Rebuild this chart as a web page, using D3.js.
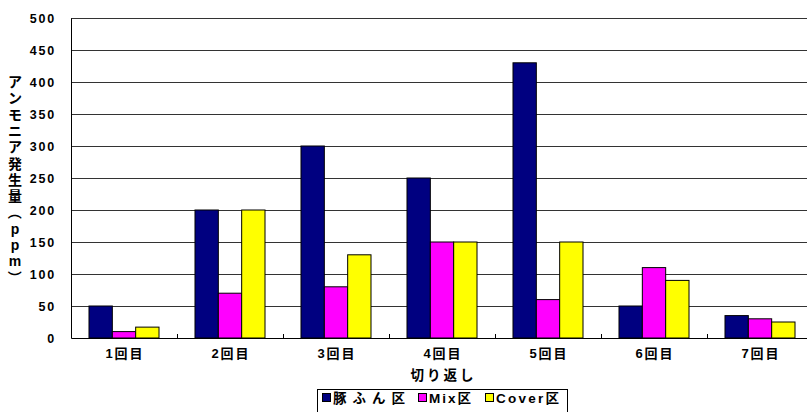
<!DOCTYPE html>
<html>
    <head>
        <meta charset="utf-8">
        <title></title>
        <style>
         body { margin: 0; background: #fff; }
         svg text {
             font-family: "Liberation Sans", Arial, "Noto Sans CJK JP", sans-serif;
             font-weight: bold;
             fill: #000;
         }
         .grid line { stroke: #333; stroke-width: 1px; }
         .bars rect { stroke: #000; stroke-width: 1px; }
        </style>
    </head>
    <body>
        <svg width="807" height="412"></svg>

        <script src="https://cdn.jsdelivr.net/npm/d3@7"></script>
        <script>

         // data
         var categories = ['1回目', '2回目', '3回目', '4回目', '5回目', '6回目', '7回目'];
         var seriesNames = ['豚ふん区', 'Mix区', 'Cover区'];
         var butaFun = [50, 200, 300, 250, 430, 50, 35];
         var mix = [10, 70, 80, 150, 60, 110, 30];
         var cover = [17, 200, 130, 150, 150, 90, 25];
         var yTicks = [0, 50, 100, 150, 200, 250, 300, 350, 400, 450, 500];
         var colors = ['#000080', '#ff00ff', '#ffff00'];
         var yTitle = ['ア', 'ン', 'モ', 'ニ', 'ア', '発', '生', '量', '（', 'p', 'p', 'm', '）'];

         var values = [butaFun, mix, cover];

         var svg = d3.select('svg');
         var plotLeft = 71, plotRight = 813, plotTop = 18, plotBottom = 338;

         var x0 = d3.scaleBand()
                    .domain(categories)
                    .range([plotLeft, plotRight]);

         var x1 = d3.scaleBand()
                    .domain(seriesNames)
                    .range([0, x0.bandwidth()])
                    .paddingOuter(0.771);

         var y = d3.scaleLinear()
                   .domain([0, 500])
                   .range([plotBottom, plotTop]);

         // gridlines
         svg.append('g')
            .attr('class', 'grid')
            .selectAll('line')
            .data(yTicks.slice(1))
            .enter()
            .append('line')
            .attr('x1', plotLeft)
            .attr('x2', plotRight)
            .attr('y1', function(d) { return Math.round(y(d)) + 0.5; })
            .attr('y2', function(d) { return Math.round(y(d)) + 0.5; });

         // bars
         var groups = svg.append('g')
                         .attr('class', 'bars')
                         .selectAll('g')
                         .data(categories)
                         .enter()
                         .append('g')
                         .attr('transform', function(d) { return 'translate(' + x0(d) + ',0)'; });

         groups.selectAll('rect')
               .data(function(d, i) {
                   return seriesNames.map(function(s, j) { return { s: s, v: values[j][i], j: j }; });
               })
               .enter()
               .append('rect')
               .attr('x', function(d) { return x1(d.s); })
               .attr('width', x1.bandwidth())
               .attr('y', function(d) { return y(d.v); })
               .attr('height', function(d) { return y(0) - y(d.v); })
               .attr('fill', function(d) { return colors[d.j]; });

         // y axis
         var yAxis = svg.append('g')
                        .attr('transform', 'translate(' + plotLeft + ',0)')
                        .call(d3.axisLeft(y).tickValues(yTicks).tickSize(0).tickPadding(15));
         yAxis.select('.domain').attr('stroke', '#000');
         yAxis.selectAll('text')
              .attr('font-family', null)
              .attr('font-size', null)
              .style('font-size', '12.5px')
              .style('letter-spacing', '1.8px');

         // x axis
         var xAxis = svg.append('g')
                        .attr('transform', 'translate(0,' + plotBottom + ')')
                        .call(d3.axisBottom(x0).tickSize(0).tickPadding(11));
         xAxis.select('.domain').attr('stroke', '#000');
         xAxis.selectAll('text')
              .attr('font-family', null)
              .attr('font-size', null)
              .style('font-size', '13px')
              .attr('textLength', 37)
              .attr('lengthAdjust', 'spacing');

         // small tick marks between categories
         svg.append('g')
            .selectAll('line')
            .data(categories.slice(1))
            .enter()
            .append('line')
            .attr('x1', function(d) { return x0(d) + 0.5; })
            .attr('x2', function(d) { return x0(d) + 0.5; })
            .attr('y1', plotBottom - 4)
            .attr('y2', plotBottom)
            .attr('stroke', '#000');

         // axis titles
         svg.append('text')
            .attr('x', (plotLeft + plotRight) / 2)
            .attr('y', 380)
            .attr('text-anchor', 'middle')
            .attr('textLength', 63)
            .attr('lengthAdjust', 'spacing')
            .style('font-size', '13.5px')
            .text('切り返し');

         svg.append('g')
            .selectAll('text')
            .data(yTitle)
            .enter()
            .append('text')
            .attr('text-anchor', 'middle')
            .attr('dominant-baseline', 'central')
            .attr('transform', function(d, i) {
                var t = 'translate(15,' + (82 + i * 16.3) + ')';
                if (d === '（' || d === '）') t += ' rotate(90)';
                return t;
            })
            .style('font-size', '14px')
            .text(function(d) { return d; });

         // legend
         var legend = svg.append('g');
         legend.append('rect')
               .attr('x', 317.5)
               .attr('y', 389.5)
               .attr('width', 250)
               .attr('height', 26)
               .attr('fill', '#fff')
               .attr('stroke', '#000');

         var legendX = [322, 418, 485];
         var legendW = [72, 42, 63];
         var item = legend.selectAll('g.item')
                          .data(seriesNames)
                          .enter()
                          .append('g')
                          .attr('class', 'item')
                          .attr('transform', function(d, i) { return 'translate(' + legendX[i] + ',393)'; });

         item.append('rect')
             .attr('x', 0.5)
             .attr('y', 0.5)
             .attr('width', 8)
             .attr('height', 8)
             .attr('fill', function(d, i) { return colors[i]; })
             .attr('stroke', '#000');

         item.append('text')
             .attr('x', 11)
             .attr('y', 9.5)
             .attr('textLength', function(d, i) { return legendW[i]; })
             .attr('lengthAdjust', 'spacing')
             .style('font-size', '13.5px')
             .text(function(d) { return d; });

        </script>
    </body>
</html>
